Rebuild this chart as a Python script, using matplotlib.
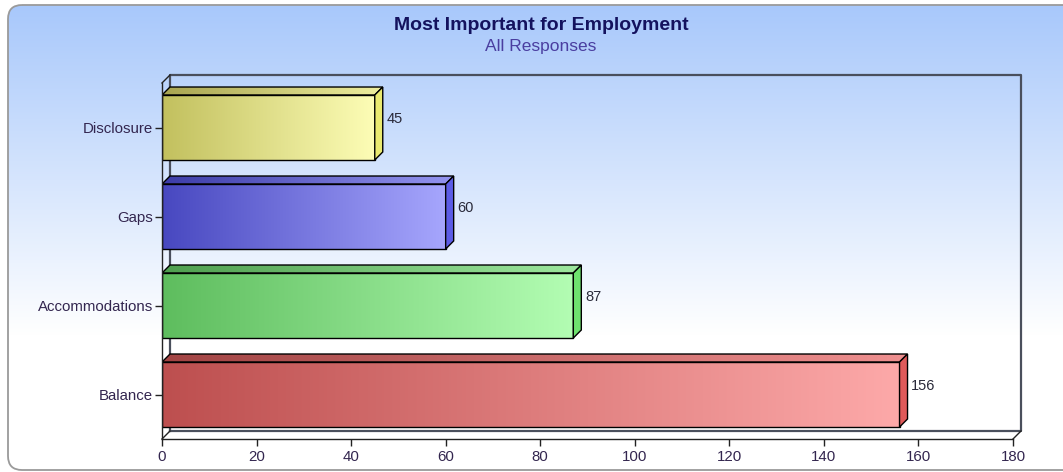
import matplotlib
matplotlib.use("Agg")
import matplotlib.pyplot as plt
import numpy as np
from matplotlib.colors import to_rgb
from matplotlib.patches import Polygon, FancyBboxPatch

categories = ["Balance", "Accommodations", "Gaps", "Disclosure"]
values = [156, 87, 60, 45]
x_ticks = [0, 20, 40, 60, 80, 100, 120, 140, 160, 180]

# front dark, front light, side, top dark, top light
bar_colors = [
    ("#bd4f4f", "#fda9a9", "#e05a5a", "#a24444", "#ef9090"),
    ("#5ebd5e", "#b3fdb3", "#6ee26e", "#4f9f4f", "#9ee89e"),
    ("#4848c0", "#a6a6fd", "#5c5ce6", "#3c3ca8", "#9494f0"),
    ("#c2c05e", "#fdfdb6", "#eaea70", "#a8a450", "#eeee9e"),
]

W, H = 1063, 472
fig = plt.figure(figsize=(W / 100, H / 100), dpi=100)
fig.patch.set_facecolor("white")

# background panel with gradient
bg = fig.add_axes([0, 0, 1, 1])
bg.set_xlim(0, W)
bg.set_ylim(H, 0)
bg.axis("off")
top_c = np.array(to_rgb("#a8c8fb"))
rows = np.arange(H)
t = np.clip((rows - 5) / 330.0, 0, 1)[:, None]
grad = top_c * (1 - t) + np.ones(3) * t
img = np.repeat(grad[:, None, :], 2, axis=1)
panel = FancyBboxPatch((8, 5), W + 20, 465, boxstyle="round,pad=0,rounding_size=14",
                       facecolor="none", edgecolor="#9a9a9a", linewidth=1.3, zorder=3)
im = bg.imshow(img, extent=(0, W, H, 0), aspect="auto", zorder=1)
bg.add_patch(panel)
im.set_clip_path(panel)

fig.text(541 / W, 1 - 25 / H, "Most Important for Employment", ha="center", va="center",
         fontsize=14, fontweight="bold", color="#14125e", family="Liberation Sans")
fig.text(541 / W, 1 - 47 / H, "All Responses", ha="center", va="center",
         fontsize=12.5, color="#4a3ea0", family="Liberation Sans")

# front plane of the 3d plot
L, R, B, T = 162, 1013, 439, 83
ax = fig.add_axes([L / W, 1 - B / H, (R - L) / W, (B - T) / H])
ax.patch.set_alpha(0)
xmax = 180
ylo, yhi = -0.5, len(categories) - 0.5
dx = 8 * xmax / (R - L)
dy = 8 * (yhi - ylo) / (B - T)
h = 0.365

# back wall / floor
floor = Polygon([(0, ylo), (xmax, ylo), (xmax + dx, ylo + dy), (dx, ylo + dy)],
                closed=True, facecolor="white", edgecolor="none", zorder=1, clip_on=False)
ax.add_patch(floor)
wall_kw = dict(color="#4a4f5c", lw=1.6, zorder=1.5, clip_on=False, solid_capstyle="projecting")
ax.plot([dx, dx, xmax + dx, xmax + dx, dx], [ylo + dy, yhi + dy, yhi + dy, ylo + dy, ylo + dy], **wall_kw)
front_kw = dict(color="#222222", lw=1.0, zorder=6, clip_on=False)
ax.plot([0, dx], [yhi, yhi + dy], **front_kw)
ax.plot([0, dx], [ylo, ylo + dy], **front_kw)
ax.plot([xmax, xmax + dx], [ylo, ylo + dy], **front_kw)
ax.plot([0, 0], [ylo, yhi], **front_kw)
ax.plot([0, xmax], [ylo, ylo], **front_kw)


def hgrad(c1, c2, n=256):
    a = np.array(to_rgb(c1))
    b = np.array(to_rgb(c2))
    s = np.linspace(0, 1, n)[:, None]
    return (a * (1 - s) + b * s)[None, :, :]


for i, (cat, v) in enumerate(zip(categories, values)):
    fd, fl, sd, td, tl = bar_colors[i]
    y0, y1 = i - h, i + h
    # front face
    ax.imshow(hgrad(fd, fl), extent=(0, v, y0, y1), aspect="auto", zorder=3,
              interpolation="bilinear")
    ax.add_patch(Polygon([(0, y0), (v, y0), (v, y1), (0, y1)], closed=True,
                         facecolor="none", edgecolor="black", lw=1.0, zorder=4))
    # top face
    top = Polygon([(0, y1), (v, y1), (v + dx, y1 + dy), (dx, y1 + dy)], closed=True,
                  facecolor="none", edgecolor="black", lw=1.0, zorder=4)
    tim = ax.imshow(hgrad(td, tl), extent=(0, v + dx, y1, y1 + dy), aspect="auto",
                    zorder=3, interpolation="bilinear")
    ax.add_patch(top)
    tim.set_clip_path(top)
    # side face
    ax.add_patch(Polygon([(v, y0), (v + dx, y0 + dy), (v + dx, y1 + dy), (v, y1)], closed=True,
                         facecolor=sd, edgecolor="black", lw=1.0, zorder=4))
    ax.text(v + dx + 0.8, i + 0.1, str(v), ha="left", va="center", fontsize=10.5,
            color="#2a2a3a", family="Liberation Sans", zorder=7)

ax.set_xlim(0, xmax)
ax.set_ylim(ylo, yhi)
for s in ax.spines.values():
    s.set_visible(False)
ax.set_xticks(x_ticks)
ax.set_xticklabels([str(x) for x in x_ticks])
ax.set_yticks(range(len(categories)))
ax.set_yticklabels(categories)
ax.tick_params(axis="both", length=5, width=1, color="#222222", labelcolor="#33264f",
               labelsize=10.8, pad=3)
ax.tick_params(axis="y", pad=1.5)
for lab in ax.get_xticklabels() + ax.get_yticklabels():
    lab.set_family("Liberation Sans")

fig.savefig("out.png", dpi=100)
